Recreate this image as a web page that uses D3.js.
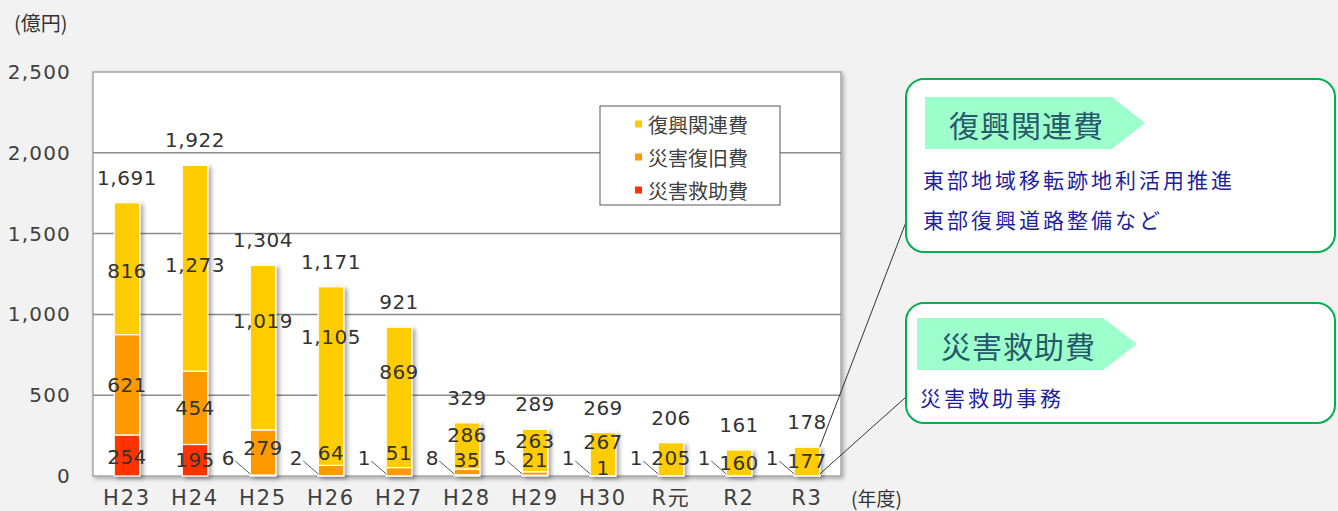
<!DOCTYPE html>
<html>
<head>
<meta charset="utf-8">
<title>復興関連費等の推移</title>
<style>
  body { margin: 0; background-color: #f2f2f2; }
</style>
</head>
<body>
<div id="chart"></div>
<script src="https://cdnjs.cloudflare.com/ajax/libs/d3/7.8.5/d3.min.js"></script>
<script>

// data (億円)
var years = ['H23', 'H24', 'H25', 'H26', 'H27', 'H28', 'H29', 'H30', 'R元', 'R2', 'R3'];
var relief = [254, 195, 6, 2, 1, 8, 5, 1, 1, 1, 1];              // 災害救助費
var restoration = [621, 454, 279, 64, 51, 35, 21, 1, 0, 0, 0];   // 災害復旧費
var reconstruction = [816, 1273, 1019, 1105, 869, 286, 263, 267, 205, 160, 177]; // 復興関連費
var totals = [1691, 1922, 1304, 1171, 921, 329, 289, 269, 206, 161, 178];
var seriesNames = ['災害救助費', '災害復旧費', '復興関連費'];
var yTicks = [0, 500, 1000, 1500, 2000, 2500];

var colors = { '災害救助費': '#ff3300', '災害復旧費': '#ff9900', '復興関連費': '#ffcc00' };

// hand moved labels in the original (pixels)
var labelNudge = {
	'災害救助費': { 'H23': 2 },
	'災害復旧費': { 'H25': -4, 'H26': -18, 'H27': -19, 'H28': -12, 'H29': -13, 'H30': -8 },
	'復興関連費': { 'H23': 2, 'H24': -3, 'H25': -27, 'H26': -39, 'H27': -25, 'H28': -11, 'H29': -10, 'H30': -12, 'R元': -1, 'R3': -1 }
};

var jpFont = '"Noto Sans CJK JP", "Noto Sans", sans-serif';
var numFont = '"DejaVu Sans", "Noto Sans CJK JP", sans-serif';

var width = 1338;
var height = 511;
var plot = { left: 93, right: 841, top: 72, bottom: 476 };

var rows = years.map(function(y, i){
	return { year: y, '災害救助費': relief[i], '災害復旧費': restoration[i], '復興関連費': reconstruction[i], total: totals[i] };
});

var svg = d3.select('#chart')
	.append('svg')
	.attr('width', width)
	.attr('height', height)
	.attr('font-family', jpFont);

var defs = svg.append('defs');

var shadow = defs.append('filter').attr('id', 'shadow')
	.attr('x', '-20%').attr('y', '-20%').attr('width', '150%').attr('height', '150%');
shadow.append('feDropShadow')
	.attr('dx', 3).attr('dy', 2).attr('stdDeviation', 2)
	.attr('flood-color', '#000').attr('flood-opacity', 0.35);

var boxShadow = defs.append('filter').attr('id', 'boxShadow')
	.attr('x', '-5%').attr('y', '-5%').attr('width', '110%').attr('height', '110%');
boxShadow.append('feDropShadow')
	.attr('dx', 2).attr('dy', 2).attr('stdDeviation', 2)
	.attr('flood-color', '#000').attr('flood-opacity', 0.3);

svg.append('rect')
	.attr('width', width).attr('height', height)
	.attr('fill', '#f2f2f2');

var x = d3.scaleBand()
	.domain(years)
	.range([plot.left, plot.right])
	.paddingInner(0.625)
	.paddingOuter(0.3125);

var y = d3.scaleLinear()
	.domain([0, 2500])
	.range([plot.bottom, plot.top]);

// plot area
svg.append('rect')
	.attr('x', plot.left).attr('y', plot.top)
	.attr('width', plot.right - plot.left)
	.attr('height', plot.bottom - plot.top)
	.attr('fill', 'white')
	.attr('stroke', '#a6a6a6')
	.attr('stroke-width', 1.5)
	.attr('filter', 'url(#boxShadow)');

// grid
svg.append('g')
	.selectAll('line')
	.data(yTicks.slice(1, -1))
	.enter()
	.append('line')
	.attr('x1', plot.left).attr('x2', plot.right)
	.attr('y1', function(d){ return y(d); })
	.attr('y2', function(d){ return y(d); })
	.attr('stroke', '#8c8c8c')
	.attr('stroke-width', 1.5);

// y axis labels
var yAxis = d3.axisLeft(y)
	.tickValues(yTicks)
	.tickSize(0)
	.tickPadding(22)
	.tickFormat(d3.format(','));

svg.append('g')
	.attr('transform', 'translate(' + plot.left + ',0)')
	.call(yAxis)
	.call(function(g){ g.select('.domain').remove(); })
	.attr('font-family', numFont)
	.attr('font-size', 20)
	.selectAll('text')
	.attr('letter-spacing', 1.2)
	.attr('fill', '#404040');

// x axis labels
var xAxis = d3.axisBottom(x).tickSize(0).tickPadding(14);

svg.append('g')
	.attr('transform', 'translate(0,' + plot.bottom + ')')
	.call(xAxis)
	.call(function(g){ g.select('.domain').remove(); })
	.attr('font-family', numFont)
	.attr('font-size', 21)
	.selectAll('text')
	.attr('letter-spacing', 1.8)
	.attr('fill', '#404040');

// stacked bars
var stack = d3.stack().keys(seriesNames);
var stacked = stack(rows);

var bars = svg.append('g').attr('filter', 'url(#shadow)');

bars.selectAll('g')
	.data(stacked)
	.enter()
	.append('g')
	.attr('fill', function(d){ return colors[d.key]; })
	.selectAll('rect')
	.data(function(d){ return d.filter(function(p){ return p[1] > p[0]; }); })
	.enter()
	.append('rect')
	.attr('x', function(d){ return x(d.data.year); })
	.attr('width', x.bandwidth())
	.attr('y', function(d){ return y(d[1]); })
	.attr('height', function(d){ return y(d[0]) - y(d[1]); })
	.attr('stroke', 'white')
	.attr('stroke-width', 1.2);

// segment labels
var labels = svg.append('g')
	.attr('font-size', 20)
	.attr('font-family', numFont)
	.attr('letter-spacing', 0.5)
	.attr('fill', '#333')
	.attr('text-anchor', 'middle')
	.attr('dominant-baseline', 'central');

stacked.forEach(function(layer){
	layer.forEach(function(p){
		var v = p.data[layer.key];
		if(v <= 0){ return; }
		var cx = x(p.data.year) + x.bandwidth() / 2;
		var mid = (y(p[0]) + y(p[1])) / 2;

		if(layer.key == '災害救助費' && v < 10){
			// small value: outside on the left with a leader line
			var left = x(p.data.year);
			labels.append('text')
				.attr('x', left - 22)
				.attr('y', y(0) - 18)
				.text(d3.format(',')(v));
			svg.append('line')
				.attr('x1', left - 15).attr('y1', y(0) - 15)
				.attr('x2', left).attr('y2', y(0) - 2)
				.attr('stroke', '#595959')
				.attr('stroke-width', 1);
			return;
		}

		var nudge = (labelNudge[layer.key] || {})[p.data.year] || 0;
		labels.append('text')
			.attr('x', cx)
			.attr('y', mid + nudge)
			.text(d3.format(',')(v));
	});
});

// totals
labels.selectAll('.total')
	.data(rows)
	.enter()
	.append('text')
	.attr('class', 'total')
	.attr('x', function(d){ return x(d.year) + x.bandwidth() / 2; })
	.attr('y', function(d){ return y(d.total) - 25; })
	.text(function(d){ return d3.format(',')(d.total); });

// unit labels
svg.append('text')
	.attr('x', 14).attr('y', 22)
	.attr('dominant-baseline', 'central')
	.attr('font-size', 20)
	.attr('fill', '#333')
	.text('(億円)');

svg.append('text')
	.attr('x', 851).attr('y', 497)
	.attr('dominant-baseline', 'central')
	.attr('font-size', 19)
	.attr('fill', '#333')
	.text('(年度)');

// legend
var legend = svg.append('g');
legend.append('rect')
	.attr('x', 600).attr('y', 106)
	.attr('width', 180).attr('height', 99)
	.attr('fill', 'white')
	.attr('stroke', '#595959')
	.attr('stroke-width', 1);

var legendItems = seriesNames.slice().reverse();
legendItems.forEach(function(name, i){
	var ly = 124 + i * 33;
	legend.append('rect')
		.attr('x', 635).attr('y', ly - 3.5)
		.attr('width', 7).attr('height', 7)
		.attr('fill', colors[name]);
	legend.append('text')
		.attr('x', 648).attr('y', ly)
		.attr('dominant-baseline', 'central')
		.attr('font-size', 20)
		.attr('fill', '#404040')
		.text(name);
});

// callouts
var callouts = [
	{ title: '復興関連費', lines: ['東部地域移転跡地利活用推進', '東部復興道路整備など'], box: [906, 79, 429, 173], tag: [925, 97, 187, 52, 33], from: [906, 222], to: 'top' },
	{ title: '災害救助費', lines: ['災害救助事務'], box: [906, 303, 429, 120], tag: [917, 318, 186, 52, 34], from: [906, 397], to: 'bottom' }
];

var last = rows[rows.length - 1];
callouts.forEach(function(c){
	var tx = x(last.year) + x.bandwidth();
	var ty = c.to == 'top' ? y(last.total) : y(0) - 2;
	svg.append('line')
		.attr('x1', c.from[0]).attr('y1', c.from[1])
		.attr('x2', tx).attr('y2', ty)
		.attr('stroke', '#333')
		.attr('stroke-width', 1);

	svg.append('rect')
		.attr('x', c.box[0]).attr('y', c.box[1])
		.attr('width', c.box[2]).attr('height', c.box[3])
		.attr('rx', 18).attr('ry', 18)
		.attr('fill', 'white')
		.attr('stroke', '#00b050')
		.attr('stroke-width', 2);

	var t = c.tag;
	svg.append('path')
		.attr('d', 'M' + t[0] + ',' + t[1] + 'H' + (t[0] + t[2]) + 'L' + (t[0] + t[2] + t[4]) + ',' + (t[1] + t[3] / 2) +
			'L' + (t[0] + t[2]) + ',' + (t[1] + t[3]) + 'H' + t[0] + 'Z')
		.attr('fill', '#9dffcc');

	svg.append('text')
		.attr('x', t[0] + 24).attr('y', t[1] + t[3] / 2 + 1)
		.attr('dominant-baseline', 'central')
		.attr('font-size', 30)
		.attr('letter-spacing', 1)
		.attr('fill', '#27596b')
		.text(c.title);

	c.lines.forEach(function(line, i){
		svg.append('text')
			.attr('x', c.box[0] + (c.lines.length > 1 ? 17 : 14))
			.attr('y', c.box[1] + (c.lines.length > 1 ? 100 : 94) + i * 40)
			.attr('dominant-baseline', 'central')
			.attr('font-size', 21)
			.attr('letter-spacing', 3)
			.attr('fill', '#1f1f9e')
			.text(line);
	});
});

</script>
</body>
</html>
